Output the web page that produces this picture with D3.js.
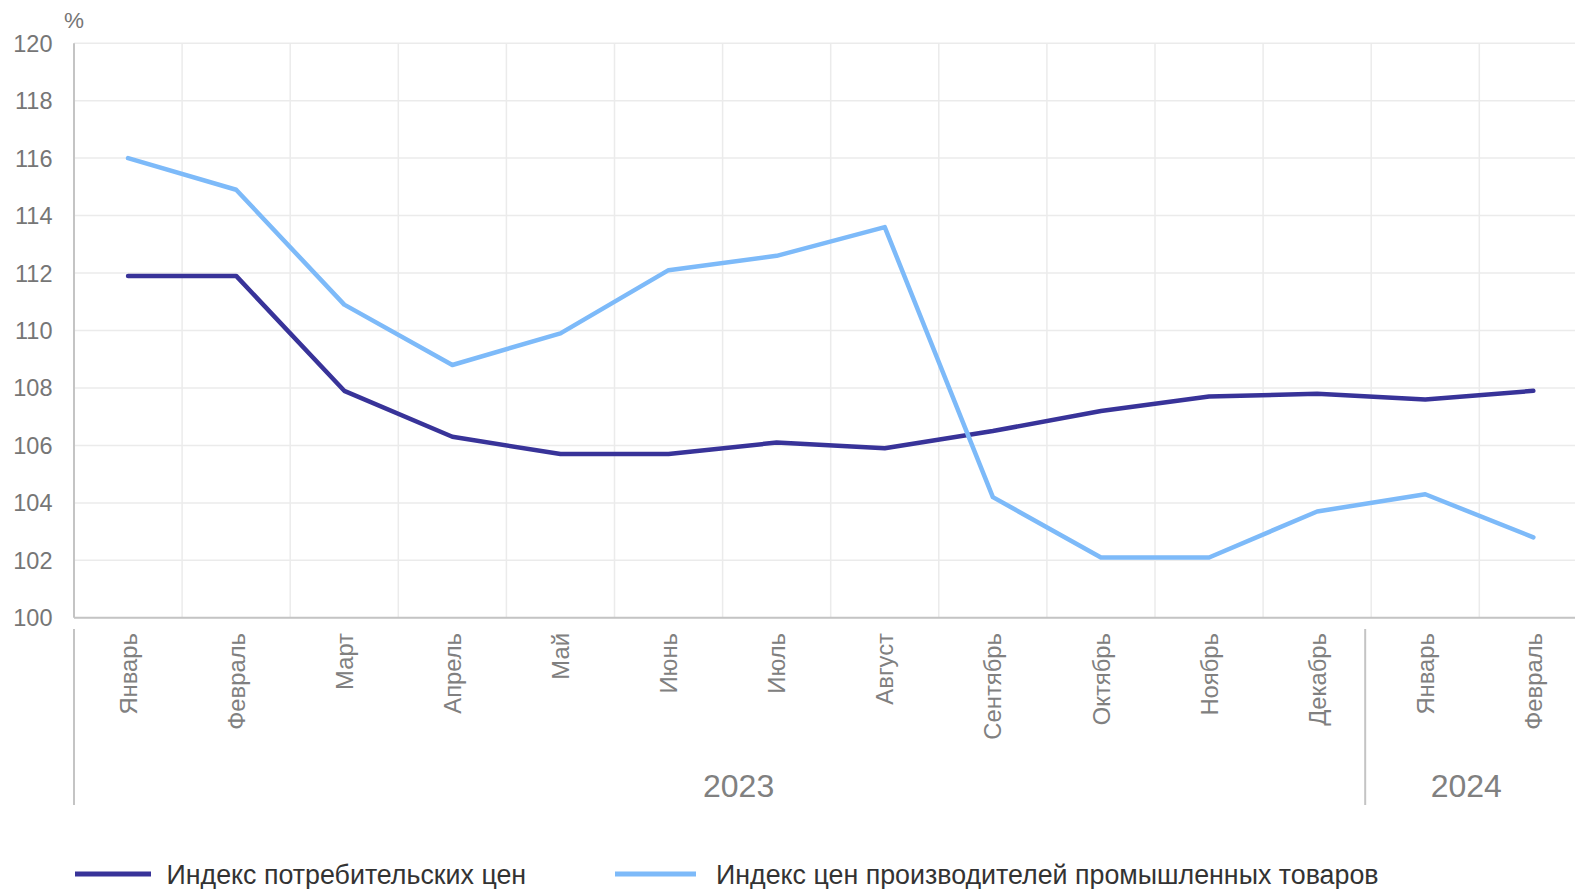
<!DOCTYPE html>
<html><head><meta charset="utf-8">
<script src="https://cdn.jsdelivr.net/npm/d3@7"></script>
<style>body{margin:0;background:#fff;overflow:hidden}svg{display:block;font-family:"Liberation Sans",Arial,sans-serif}</style>
</head><body><svg id="c" width="1575" height="889"></svg>
<script>
const months = ["Январь","Февраль","Март","Апрель","Май","Июнь","Июль","Август","Сентябрь","Октябрь","Ноябрь","Декабрь","Январь","Февраль"];
const years = [{label:"2023", from:0, to:11},{label:"2024", from:12, to:13}];
const cpi = [111.9,111.9,107.9,106.3,105.7,105.7,106.1,105.9,106.5,107.2,107.7,107.8,107.6,107.9];
const ppi = [116.0,114.9,110.9,108.8,109.9,112.1,112.6,113.6,104.2,102.1,102.1,103.7,104.3,102.8];
const yTicks = [100,102,104,106,108,110,112,114,116,118,120];
const seriesNames = ["Индекс потребительских цен","Индекс цен производителей промышленных товаров"];
const colors = ["#383399","#7dbaf9"];

const svg = d3.select("#c");
const L=74, R=1587.4, T=43.2, B=617.8;
const idx = months.map((d,i)=>i);
const x = d3.scaleBand().domain(idx).range([L,R]);
const cx = i => x(i)+x.bandwidth()/2;
const y = d3.scaleLinear().domain([100,120]).range([B,T]);

// grid
svg.append("g").selectAll("line").data(yTicks).join("line")
  .attr("x1",L).attr("x2",R).attr("y1",d=>y(d)).attr("y2",d=>y(d))
  .attr("stroke","#ebebeb").attr("stroke-width",1.5);
svg.append("g").selectAll("line").data(idx.slice(1)).join("line")
  .attr("x1",d=>x(d)).attr("x2",d=>x(d)).attr("y1",T).attr("y2",B)
  .attr("stroke","#ebebeb").attr("stroke-width",1.5);

// axes lines
svg.append("line").attr("x1",L).attr("x2",R).attr("y1",B).attr("y2",B).attr("stroke","#c4c4c4").attr("stroke-width",2);
svg.append("line").attr("x1",L).attr("x2",L).attr("y1",T).attr("y2",B).attr("stroke","#c4c4c4").attr("stroke-width",2);

// y labels
svg.append("g").selectAll("text").data(yTicks).join("text")
  .attr("x",52.5).attr("y",d=>y(d)).attr("dy","0.36em").attr("text-anchor","end")
  .attr("font-size",23.5).attr("fill","#767676").text(d=>d);
svg.append("text").attr("x",64).attr("y",28).attr("font-size",22.5).attr("fill","#767676").text("%");

// month labels
svg.append("g").selectAll("text").data(months).join("text")
  .attr("transform",(d,i)=>`translate(${cx(i)},633) rotate(-90)`)
  .attr("dy","0.36em").attr("text-anchor","end")
  .attr("font-size",23.8).attr("fill","#808080").text(d=>d);

// group separators
const seps = [L, x(12)-6];
svg.append("g").selectAll("line").data(seps).join("line")
  .attr("x1",d=>d).attr("x2",d=>d).attr("y1",629).attr("y2",805)
  .attr("stroke","#c4c4c4").attr("stroke-width",2);
svg.append("g").selectAll("text").data(years).join("text")
  .attr("x",(d,i)=>(cx(d.from)+cx(d.to))/2 + (i===0? 16 : -13))
  .attr("y",797).attr("text-anchor","middle")
  .attr("font-size",32).attr("fill","#808080").text(d=>d.label);

// lines
const line = d3.line().x((d,i)=>cx(i)).y(d=>y(d));
[cpi,ppi].forEach((s,k)=>{
  svg.append("path").datum(s).attr("d",line).attr("fill","none")
    .attr("stroke",colors[k]).attr("stroke-width",4.5)
    .attr("stroke-linejoin","round").attr("stroke-linecap","round");
});

// legend
const leg = [{x:75,w:76,tx:166.5},{x:615,w:81,tx:716}];
leg.forEach((p,k)=>{
  svg.append("line").attr("x1",p.x).attr("x2",p.x+p.w).attr("y1",874).attr("y2",874)
    .attr("stroke",colors[k]).attr("stroke-width",5);
  svg.append("text").attr("x",p.tx).attr("y",874).attr("dy","0.36em")
    .attr("font-size",26.8).attr("fill","#333").text(seriesNames[k]);
});
</script></body></html>
